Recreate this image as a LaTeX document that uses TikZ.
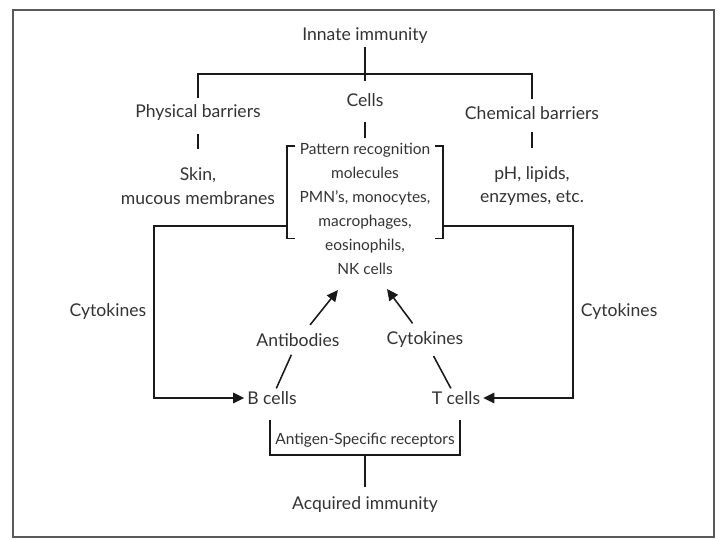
\documentclass[tikz,border=0pt]{standalone}
\usepackage{fontspec}
\setmainfont{Lato}
\usepackage{tikz}
\usetikzlibrary{arrows.meta}

\begin{document}
\begin{tikzpicture}[
    lbl/.style={inner sep=2pt, text=black!80, font=\fontsize{12.5}{17}\selectfont},
    lines/.style={lbl, align=center},
    narrow/.style={lines, font=\fontsize{11}{17}\selectfont},
    small/.style={inner sep=2pt, text=black!80, font=\fontsize{11}{14}\selectfont},
    link/.style={line width=1.1pt, black!90},
    flow/.style={link, -{Triangle[length=8pt,width=7.5pt]}},
    frame/.style={line width=0.8pt, black!65}
]

% Page and frame
\useasboundingbox (0,0) rectangle (18,13.5);
\draw[frame] (0.325,0.075) rectangle (17.85,13.25);

% Innate branch
\node[lbl] (innate) at (9.125,12.6) {Innate immunity};
\node[lbl] (cells) at (9.125,11.0) {Cells};
\node[lbl] (physical) at (4.95,10.675) {Physical barriers};
\node[lbl] (chemical) at (13.3,10.675) {Chemical barriers};
\coordinate (bar) at (9.125,11.65);
\draw[link, shorten >=6.5pt] (innate) -- (cells);
\draw[link, shorten <=3pt, shorten >=3pt] (physical) |- (bar) -| (chemical);

% Second row
\node[lines] (skin) at (4.95,8.85) {Skin,\\mucous membranes};
\node[lines] (chemtext) at (13.3,8.85) {pH, lipids,\\enzymes, etc.};
\node[narrow] (celllist) at (9.125,8.275) {Pattern recognition\\molecules\\PMN's, monocytes,\\macrophages,\\eosinophils,\\NK cells};
\draw[link, shorten <=7pt, shorten >=11pt] (physical) -- (skin);
\draw[link, shorten <=7pt, shorten >=11pt] (chemical) -- (chemtext);
\draw[link, shorten <=9pt, shorten >=2pt] (cells) -- (celllist);

% Brackets round the cells
\draw[link] (7.375,9.85) -- (7.175,9.85) -- (7.175,7.54) -- (7.375,7.54);
\draw[link] (10.875,9.85) -- (11.075,9.85) -- (11.075,7.54) -- (10.875,7.54);
\coordinate (brkL) at (7.175,7.85);
\coordinate (brkR) at (11.075,7.85);
\coordinate (cornerL) at (3.85,7.85);
\coordinate (cornerR) at (14.325,7.85);

% Acquired branch
\node[lbl] (bcells) at (6.8,3.55) {B cells};
\node[lbl] (tcells) at (11.4,3.55) {T cells};
\node[lbl] (antib) at (7.45,5.0) {Antibodies};
\node[lbl] (cytoM) at (10.625,5.0) {Cytokines};
\coordinate (nkL) at (8.45,6.25);
\coordinate (nkR) at (9.675,6.275);

% Cytokine loops
\draw[flow] (brkL) -- (cornerL) |- node[lbl, pos=0.25, left=3pt] (cytoL) {Cytokines} (bcells);
\draw[flow] (brkR) -- (cornerR) |- node[lbl, pos=0.25, right=3pt] (cytoR) {Cytokines} (tcells);

% Arrows up to the cells
\draw[link, shorten >=4pt] (bcells) -- (antib);
\draw[flow, shorten <=5pt] (antib) -- (nkL);
\draw[link, shorten >=4pt] (tcells) -- (cytoM);
\draw[flow, shorten <=5pt] (cytoM) -- (nkR);

% Receptors and acquired immunity
\node[small] (receptors) at (9.125,2.5) {Antigen-Specific receptors};
\node[lbl] (acquired) at (9.125,0.875) {Acquired immunity};
\coordinate (recbar) at (9.125,2.125);
\draw[link] (6.75,3.0) -- (6.75,2.125) -- (11.5,2.125) -- (11.5,3.0);
\draw[link, shorten >=5pt] (recbar) -- (acquired);

\end{tikzpicture}
\end{document}
